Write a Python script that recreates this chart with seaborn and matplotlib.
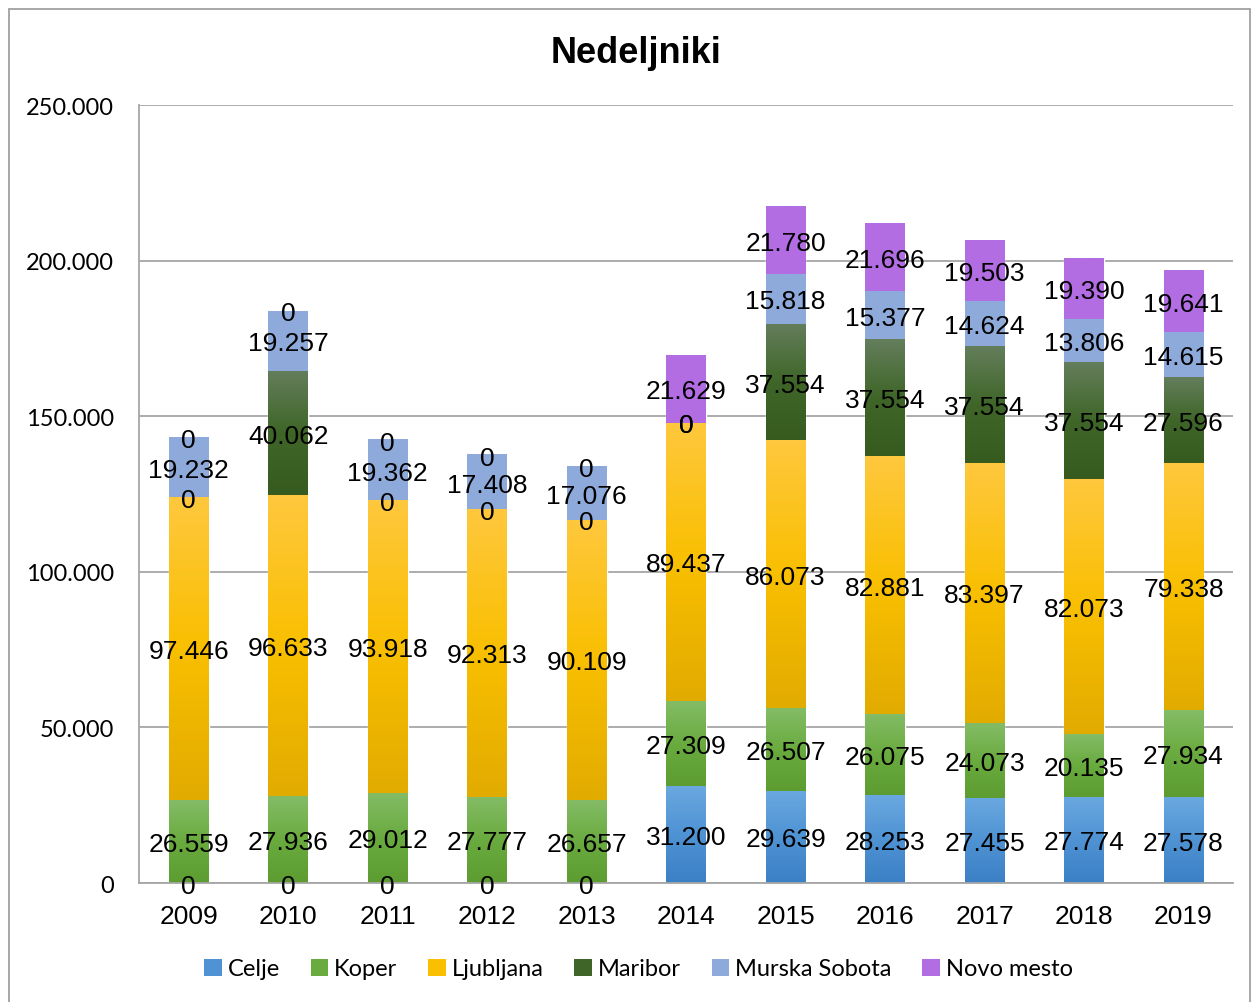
import matplotlib
matplotlib.use("Agg")
import numpy as np
import pandas as pd
import seaborn as sns
import matplotlib.pyplot as plt
from matplotlib.colors import LinearSegmentedColormap
from matplotlib.patches import Patch, Rectangle
from matplotlib.ticker import FuncFormatter

# data
years = ["2009", "2010", "2011", "2012", "2013", "2014", "2015", "2016", "2017", "2018", "2019"]
celje = [0, 0, 0, 0, 0, 31200, 29639, 28253, 27455, 27774, 27578]
koper = [26559, 27936, 29012, 27777, 26657, 27309, 26507, 26075, 24073, 20135, 27934]
ljubljana = [97446, 96633, 93918, 92313, 90109, 89437, 86073, 82881, 83397, 82073, 79338]
maribor = [0, 40062, 0, 0, 0, 0, 37554, 37554, 37554, 37554, 27596]
murska_sobota = [19232, 19257, 19362, 17408, 17076, 0, 15818, 15377, 14624, 13806, 14615]
novo_mesto = [0, 0, 0, 0, 0, 21629, 21780, 21696, 19503, 19390, 19641]

series = ["Celje", "Koper", "Ljubljana", "Maribor", "Murska Sobota", "Novo mesto"]
values = [celje, koper, ljubljana, maribor, murska_sobota, novo_mesto]

# bottom, middle, top colours of each gradient
gradients = [
    ["#3B80C5", "#4F93D4", "#6AA8E0"],
    ["#5C9C30", "#6AAB3F", "#84BC66"],
    ["#E2AB00", "#F9BF00", "#FFC83E"],
    ["#375B1F", "#3F6628", "#647E5C"],
    ["#8EAADB", "#8EAADB", "#8EAADB"],
    ["#B36DE3", "#B36DE3", "#B36DE3"],
]

sns.set_style("white")
plt.rcParams["font.family"] = ["Liberation Sans", "DejaVu Sans"]
plt.rcParams["text.color"] = "black"
plt.rcParams["xtick.labelcolor"] = "black"
plt.rcParams["ytick.labelcolor"] = "black"

fig = plt.figure(figsize=(12.52, 10.03), dpi=100)
ax = fig.add_axes([0.111, 0.1186, 0.874, 0.7757])

fmt = lambda v: f"{v:,.0f}".replace(",", ".")

bottom = np.zeros(len(years))
n_before = 0
for name, vals, grad in zip(series, values, gradients):
    df = pd.DataFrame({"year": years, "value": vals})
    sns.barplot(data=df, x="year", y="value", bottom=bottom, width=0.4,
                color=grad[1], saturation=1, errorbar=None, ax=ax, zorder=2)
    cmap = LinearSegmentedColormap.from_list(name, grad)
    new_patches = ax.patches[n_before:]
    n_before = len(ax.patches)
    for p in new_patches:
        x, y, w, h = p.get_x(), p.get_y(), p.get_width(), p.get_height()
        if h > 0:
            ax.imshow(np.linspace(0, 1, 256).reshape(-1, 1), cmap=cmap, origin="lower",
                      extent=[x, x + w, y, y + h], aspect="auto", zorder=2.5)
    for i, v in enumerate(vals):
        ax.text(i, bottom[i] + v / 2, fmt(v), ha="center", va="center_baseline",
                fontsize=19, color="black", zorder=5)
    bottom = bottom + np.array(vals)

ax.set_xlim(-0.5, len(years) - 0.5)
ax.set_ylim(0, 250000)
ax.set_yticks(np.arange(0, 250001, 50000))
ax.yaxis.set_major_formatter(FuncFormatter(lambda v, pos: fmt(v)))
ax.set_xlabel("")
ax.set_ylabel("")

ax.grid(axis="y", color="#A6A6A6", linewidth=1.3, zorder=0)
ax.set_axisbelow(True)
for s in ["top", "right"]:
    ax.spines[s].set_visible(False)
for s in ["left", "bottom"]:
    ax.spines[s].set_color("#A6A6A6")
    ax.spines[s].set_linewidth(1.3)

ax.tick_params(axis="y", length=8, color="#A6A6A6", width=1.3, labelsize=17, pad=10,
               labelcolor="black")
for lbl in ax.get_yticklabels():
    lbl.set_fontfamily(["Lato", "DejaVu Sans"])
ax.set_xticks(np.arange(-0.5, len(years), 1), minor=True)
ax.tick_params(axis="x", which="minor", length=8, color="#A6A6A6", width=1.3)
ax.tick_params(axis="x", which="major", length=0, labelsize=19, pad=15, labelcolor="black")

fig.text(0.508, 0.947, "Nedeljniki", ha="center", va="center",
         fontsize=26, fontweight="bold", color="black")

handles = [Patch(facecolor=g[1], edgecolor="none", label=n) for n, g in zip(series, gradients)]
fig.legend(handles=handles, loc="center", bbox_to_anchor=(0.51, 0.033), ncol=6,
           frameon=False, handlelength=0.75, handleheight=0.75, handletextpad=0.25,
           columnspacing=1.3, labelcolor="black",
           prop={"family": ["Lato", "DejaVu Sans"], "size": 17})

fig.patches.append(Rectangle((0.0072, -0.01), 0.9912, 1.0, transform=fig.transFigure,
                             fill=False, edgecolor="#A0A0A0", linewidth=1.3))

fig.savefig("out.png", dpi=100)
